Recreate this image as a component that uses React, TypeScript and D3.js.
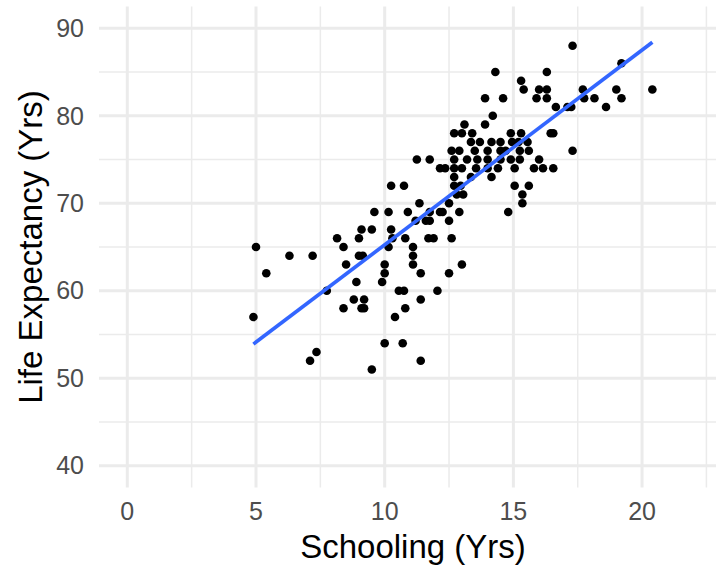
import React from "react";
import * as d3 from "d3";

// Schooling (years) and life expectancy (years), one line per life-expectancy level
const schooling: number[] = [
  17.3,
  19.2,
  14.3, 16.3,
  15.3,
  15.4, 16.0, 16.3, 17.7, 19.0, 20.4,
  13.9, 14.6, 15.9, 16.3, 17.75, 18.15, 19.2,
  16.65, 17.1, 17.25, 18.6,
  14.2,
  13.1, 13.9,
  12.7, 13.0, 13.4, 14.9, 15.3, 16.45, 16.55,
  13.35, 13.7, 14.15, 14.5, 14.95, 15.2, 15.55,
  12.6, 12.9, 13.5, 14.0, 14.5, 14.7, 15.25, 15.6, 17.3,
  11.25, 11.75, 12.7, 13.2, 13.6, 14.0, 14.5, 14.9, 15.25, 16.0,
  12.15, 12.35, 12.7, 13.0, 13.55, 14.0, 14.4, 15.05, 15.8, 16.15, 16.55,
  12.7, 13.35, 14.15,
  10.25, 10.75, 12.7, 12.95, 15.05, 15.6,
  12.8, 13.05, 15.35,
  11.35, 12.5, 15.35,
  9.6, 10.15, 10.9, 11.75, 12.15, 12.25, 12.9, 14.8,
  11.2, 11.6, 11.75, 12.5,
  9.1, 9.5, 10.25,
  8.15, 9.0, 10.3, 10.8, 11.7, 11.9, 12.6,
  5.0, 8.4, 10.15, 11.1,
  6.3, 7.2, 9.0, 9.15, 11.1,
  8.5, 10.0, 11.1, 13.0,
  5.4, 10.0, 11.4, 12.5,
  8.9, 9.9,
  7.75, 10.55, 10.75, 12.05,
  8.8, 9.2, 11.4,
  8.4, 9.1, 9.2, 10.8,
  4.9, 10.4,
  10.0, 10.7,
  7.35,
  7.1, 11.4,
  9.5,
];

const lifeExpectancy: number[] = [
  88,
  86,
  85, 85,
  84,
  83, 83, 83, 83, 83, 83,
  82, 82, 82, 82, 82, 82, 82,
  81, 81, 81, 81,
  80,
  79, 79,
  78, 78, 78, 78, 78, 78, 78,
  77, 77, 77, 77, 77, 77, 77,
  76, 76, 76, 76, 76, 76, 76, 76, 76,
  75, 75, 75, 75, 75, 75, 75, 75, 75, 75,
  74, 74, 74, 74, 74, 74, 74, 74, 74, 74, 74,
  73, 73, 73,
  72, 72, 72, 72, 72, 72,
  71, 71, 71,
  70, 70, 70,
  69, 69, 69, 69, 69, 69, 69, 69,
  68, 68, 68, 68,
  67, 67, 67,
  66, 66, 66, 66, 66, 66, 66,
  65, 65, 65, 65,
  64, 64, 64, 64, 64,
  63, 63, 63, 63,
  62, 62, 62, 62,
  61, 61,
  60, 60, 60, 60,
  59, 59, 59,
  58, 58, 58, 58,
  57, 57,
  54, 54,
  53,
  52, 52,
  51,
];

// fitted linear trend (geom_smooth, method = "lm"), end points
const fitSchooling = [4.9, 20.4];
const fitLifeExpectancy = [53.9, 88.4];

const xTicks = [0, 5, 10, 15, 20];
const xMinorTicks = [2.5, 7.5, 12.5, 17.5, 22.5];
const yTicks = [40, 50, 60, 70, 80, 90];
const yMinorTicks = [45, 55, 65, 75, 85];
const xTitle = "Schooling (Yrs)";
const yTitle = "Life Expectancy (Yrs)";

export default function App() {
  const W = 716;
  const H = 566;
  const panel = { left: 99, right: 727, top: 6.4, bottom: 487.6 };

  const x = d3.scaleLinear().domain([-1.1, 23.3]).range([panel.left, panel.right]);
  const y = d3.scaleLinear().domain([37.5, 92.5]).range([panel.bottom, panel.top]);

  const fit = fitSchooling.map((sx, i) => [sx, fitLifeExpectancy[i]] as [number, number]);
  const line = d3
    .line<[number, number]>()
    .x((d) => x(d[0]))
    .y((d) => y(d[1]));

  const font = "'Liberation Sans', Arial, Helvetica, sans-serif";
  const grid = "#EBEBEB";

  return (
    <svg
      width={W}
      height={H}
      style={{ position: "absolute", left: 0, top: 0, display: "block", background: "#fff" }}
    >
      <rect x={0} y={0} width={W} height={H} fill="#fff" />
      {/* minor grid */}
      {yMinorTicks.map((t) => (
        <line key={"ym" + t} x1={panel.left} x2={panel.right} y1={y(t)} y2={y(t)} stroke={grid} strokeWidth={1.5} />
      ))}
      {xMinorTicks.map((t) => (
        <line key={"xm" + t} x1={x(t)} x2={x(t)} y1={panel.top} y2={panel.bottom} stroke={grid} strokeWidth={1.5} />
      ))}
      {/* major grid */}
      {yTicks.map((t) => (
        <line key={"y" + t} x1={panel.left} x2={panel.right} y1={y(t)} y2={y(t)} stroke={grid} strokeWidth={3} />
      ))}
      {xTicks.map((t) => (
        <line key={"x" + t} x1={x(t)} x2={x(t)} y1={panel.top} y2={panel.bottom} stroke={grid} strokeWidth={3} />
      ))}

      {/* points */}
      {schooling.map((sx, i) => (
        <circle key={"p" + i} cx={x(sx)} cy={y(lifeExpectancy[i])} r={4.3} fill="#000" />
      ))}

      {/* fit line */}
      <path d={line(fit) || ""} fill="none" stroke="#3366FF" strokeWidth={3.7} />

      {/* tick labels */}
      {yTicks.map((t) => (
        <text
          key={"yl" + t}
          x={84}
          y={y(t)}
          dy="0.35em"
          textAnchor="end"
          fontFamily={font}
          fontSize={25}
          fill="#4D4D4D"
        >
          {t}
        </text>
      ))}
      {xTicks.map((t) => (
        <text
          key={"xl" + t}
          x={x(t)}
          y={520}
          textAnchor="middle"
          fontFamily={font}
          fontSize={25}
          fill="#4D4D4D"
        >
          {t}
        </text>
      ))}

      {/* axis titles */}
      <text
        x={(panel.left + panel.right) / 2}
        y={558}
        textAnchor="middle"
        fontFamily={font}
        fontSize={33}
        fill="#000"
      >
        {xTitle}
      </text>
      <text
        transform={`translate(42, ${(panel.top + panel.bottom) / 2}) rotate(-90)`}
        textAnchor="middle"
        fontFamily={font}
        fontSize={33}
        fill="#000"
      >
        {yTitle}
      </text>
    </svg>
  );
}
